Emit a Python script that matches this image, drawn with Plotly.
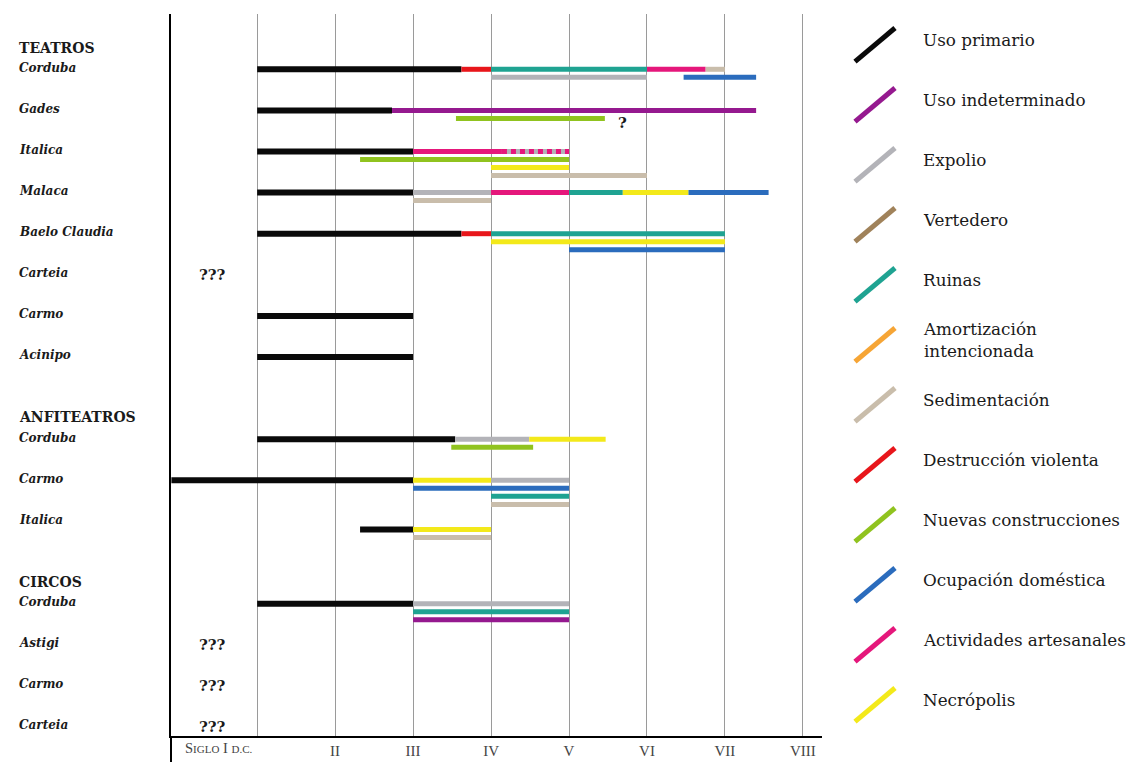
import plotly.graph_objects as go

W, H = 1136, 762

# ---------------- data ----------------
categories = ["Uso primario", "Uso indeterminado", "Expolio", "Vertedero", "Ruinas",
              "Amortización intencionada", "Sedimentación", "Destrucción violenta",
              "Nuevas construcciones", "Ocupación doméstica", "Actividades artesanales",
              "Necrópolis"]
legend_text = ["Uso primario", "Uso indeterminado", "Expolio", "Vertedero", "Ruinas",
               "Amortización<br>intencionada", "Sedimentación", "Destrucción violenta",
               "Nuevas construcciones", "Ocupación doméstica", "Actividades artesanales",
               "Necrópolis"]
colors = ["#0a0a0a", "#95198f", "#b3b3b8", "#a0825a", "#1fa392", "#f6a535",
          "#c9bdab", "#e8161b", "#90c31f", "#2b6cbd", "#e5177b", "#f3e91a"]

century_ticks = [1, 2, 3, 4, 5, 6, 7, 8]
century_text = ["", "II", "III", "IV", "V", "VI", "VII", "VIII"]

section_titles = ["TEATROS", "ANFITEATROS", "CIRCOS"]
section_rows = [0, 9, 13]

row_labels = ["Corduba", "Gades", "Italica", "Malaca", "Baelo Claudia", "Carteia", "Carmo",
              "Acinipo", "Corduba", "Carmo", "Italica", "Corduba", "Astigi", "Carmo", "Carteia"]
row_index = [0, 1, 2, 3, 4, 5, 6, 7, 9, 10, 11, 13, 14, 15, 16]
unknown_rows = [5, 14, 15, 16]   # "???"

# segments: (lane, start century, end century, category)
teatro_corduba = [(0, 1.0, 3.62, "Uso primario"), (0, 3.62, 4.0, "Destrucción violenta"),
                  (0, 4.0, 6.0, "Ruinas"), (0, 6.0, 6.75, "Actividades artesanales"),
                  (0, 6.75, 7.0, "Sedimentación"), (1, 4.0, 6.0, "Expolio"),
                  (1, 6.47, 7.4, "Ocupación doméstica")]
teatro_gades = [(0, 1.0, 2.73, "Uso primario"), (0, 2.73, 7.4, "Uso indeterminado"),
                (1, 3.55, 5.46, "Nuevas construcciones")]
teatro_italica = [(0, 1.0, 3.0, "Uso primario"), (0, 3.0, 4.14, "Actividades artesanales"),
                  (0, 4.14, 5.0, "Expolio"), (1, 2.32, 5.0, "Nuevas construcciones"),
                  (2, 4.0, 5.0, "Necrópolis"), (3, 4.0, 6.0, "Sedimentación")]
teatro_italica_uncertain = [(0, 4.14, 5.0, "Actividades artesanales")]
teatro_malaca = [(0, 1.0, 3.0, "Uso primario"), (0, 3.0, 4.0, "Expolio"),
                 (0, 4.0, 5.0, "Actividades artesanales"), (0, 5.0, 5.69, "Ruinas"),
                 (0, 5.69, 6.53, "Necrópolis"), (0, 6.53, 7.56, "Ocupación doméstica"),
                 (1, 3.0, 4.0, "Sedimentación")]
teatro_baelo = [(0, 1.0, 3.62, "Uso primario"), (0, 3.62, 4.0, "Destrucción violenta"),
                (0, 4.0, 7.0, "Ruinas"), (1, 4.0, 7.0, "Necrópolis"),
                (2, 5.0, 7.0, "Ocupación doméstica")]
teatro_carmo = [(0, 1.0, 3.0, "Uso primario")]
teatro_acinipo = [(0, 1.0, 3.0, "Uso primario")]
anfi_corduba = [(0, 1.0, 3.54, "Uso primario"), (0, 3.54, 4.49, "Expolio"),
                (0, 4.49, 5.47, "Necrópolis"), (1, 3.49, 4.54, "Nuevas construcciones")]
anfi_carmo = [(0, -0.1, 3.0, "Uso primario"), (0, 3.0, 4.0, "Necrópolis"),
              (0, 4.0, 5.0, "Expolio"), (1, 3.0, 5.0, "Ocupación doméstica"),
              (2, 4.0, 5.0, "Ruinas"), (3, 4.0, 5.0, "Sedimentación")]
anfi_italica = [(1, 2.32, 3.0, "Uso primario"), (1, 3.0, 4.0, "Necrópolis"),
                (2, 3.0, 4.0, "Sedimentación")]
circo_corduba = [(0, 1.0, 3.0, "Uso primario"), (0, 3.0, 5.0, "Expolio"),
                 (1, 3.0, 5.0, "Ruinas"), (2, 3.0, 5.0, "Uso indeterminado")]

monument_rows = [0, 1, 2, 3, 4, 6, 7, 9, 10, 11, 13]
monument_segments = [teatro_corduba, teatro_gades, teatro_italica, teatro_malaca, teatro_baelo,
                     teatro_carmo, teatro_acinipo, anfi_corduba, anfi_carmo, anfi_italica,
                     circo_corduba]
uncertain_rows = [2]
uncertain_segments = [teatro_italica_uncertain]
question_after = (1, 1, 5.46)   # row, lane, x where "?" follows

# ---------------- layout constants ----------------
LANE = 0.195
FONT = "DejaVu Serif"
X0, X1 = 171, 822
Y_TOP, Y_BOT = 14, 736
XR = [-0.105, 8.245]
YR = [16.22, -1.345]

fig = go.Figure()

# bars per category
for cat, col in zip(categories, colors):
    xs, ys = [], []
    for r, segs in zip(monument_rows, monument_segments):
        for lane, s, e, c in segs:
            if c == cat:
                yy = r + LANE * lane
                xs += [s, e, None]
                ys += [yy, yy, None]
    if xs:
        fig.add_trace(go.Scatter(x=xs, y=ys, mode="lines", hoverinfo="skip",
                                 line=dict(color=col, width=6 if cat == "Uso primario" else 5),
                                 showlegend=False))

# uncertain (dashed) segments
for r, segs in zip(uncertain_rows, uncertain_segments):
    for lane, s, e, c in segs:
        yy = r + LANE * lane
        fig.add_trace(go.Scatter(x=[s, e], y=[yy, yy], mode="lines", hoverinfo="skip",
                                 line=dict(color=colors[categories.index(c)], width=5,
                                           dash="5px,4px"),
                                 showlegend=False))

annotations = []
# row labels
for lab, r in zip(row_labels, row_index):
    annotations.append(dict(text=lab, xref="paper", yref="y", x=17 / W, y=r - 0.04,
                            xanchor="left", yanchor="middle", showarrow=False,
                            font=dict(family=FONT, size=12, color="#1a1a1a",
                                      weight="bold", style="italic")))
for t, r in zip(section_titles, section_rows):
    annotations.append(dict(text=t, xref="paper", yref="y", x=17 / W, y=r - 0.53,
                            xanchor="left", yanchor="middle", showarrow=False,
                            font=dict(family=FONT, size=14, color="#1a1a1a", weight="bold")))
for r in unknown_rows:
    annotations.append(dict(text="???", xref="x", yref="y", x=0.43, y=r,
                            xanchor="center", yanchor="middle", showarrow=False,
                            font=dict(family=FONT, size=15, color="#1a1a1a", weight="bold")))
qr, ql, qx = question_after
annotations.append(dict(text="?", xref="x", yref="y", x=qx + 0.23, y=qr + LANE * ql + 0.1,
                        xanchor="center", yanchor="middle", showarrow=False,
                        font=dict(family=FONT, size=15, color="#1a1a1a", weight="bold")))
# first century label
annotations.append(dict(text="S<span style='font-size:11px'>IGLO</span> I "
                             "<span style='font-size:11px'>D.C.</span>",
                        xref="x", yref="paper", x=0.5, y=1 - 748 / H,
                        xanchor="center", yanchor="middle", showarrow=False,
                        font=dict(family="Liberation Serif", size=14.5, color="#444")))

# legend (own axes)
for i, (txt, col) in enumerate(zip(legend_text, colors)):
    cy = i + 0.08
    fig.add_trace(go.Scatter(x=[10, 50], y=[cy + 0.28, cy - 0.28], mode="lines",
                             xaxis="x2", yaxis="y2", hoverinfo="skip", showlegend=False,
                             line=dict(color=col, width=5)))
    annotations.append(dict(text=txt, xref="x2", yref="y2", x=76, y=i, xanchor="left",
                            yanchor="middle", align="left", showarrow=False,
                            font=dict(family=FONT, size=16.8, color="#1a1a1a")))

fig.update_layout(
    width=W, height=H, autosize=False,
    margin=dict(l=0, r=0, t=0, b=0),
    paper_bgcolor="white", plot_bgcolor="white",
    showlegend=False,
    annotations=annotations,
    xaxis=dict(domain=[X0 / W, X1 / W], range=XR, tickmode="array",
               tickvals=century_ticks, ticktext=century_text,
               showgrid=True, gridcolor="#9a9a9a", gridwidth=1,
               showline=True, linecolor="black", linewidth=2, zeroline=False, ticks="",
               tickfont=dict(family="Liberation Serif", size=15, color="#444"),
               fixedrange=True),
    yaxis=dict(domain=[1 - Y_BOT / H, 1 - Y_TOP / H], range=YR, showgrid=False,
               showticklabels=False, showline=True, linecolor="black", linewidth=2,
               zeroline=False, ticks="", fixedrange=True),
    xaxis2=dict(domain=[845 / W, 1], range=[0, 291], visible=False, fixedrange=True),
    yaxis2=dict(domain=[0, 1], range=[12.033, -0.667], visible=False, fixedrange=True,
                anchor="x2"),
    shapes=[dict(type="line", xref="paper", yref="paper", x0=X0 / W, x1=X0 / W,
                 y0=0, y1=1 - Y_BOT / H, line=dict(color="black", width=2))],
)

fig.write_html("out.html",
               config={"displayModeBar": False},
               post_script="document.body.style.margin='0';"
                           "document.body.style.overflow='hidden';")
